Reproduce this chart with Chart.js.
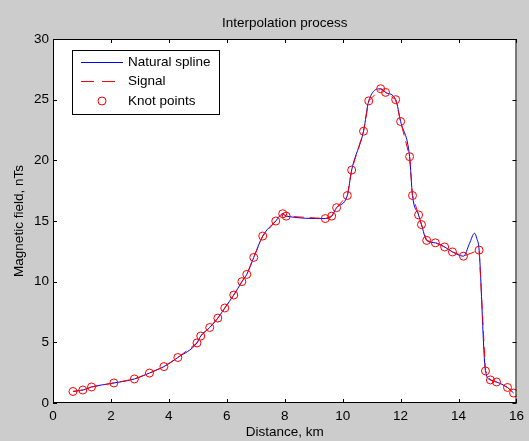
<!DOCTYPE html>
<html lang="en">
<head>
<meta charset="UTF-8">
<title>Interpolation process</title>
<script src="https://cdn.jsdelivr.net/npm/chart.js"></script>
<style>
  body { margin: 0; background: #cccccc; }
  canvas { display: block; }
</style>
</head>
<body>
<canvas id="chart" width="529" height="441"></canvas>
<script>
// knot points (km, nT)
const knotX = [0.69, 1.03, 1.33, 2.10, 2.81, 3.33, 3.83, 4.31, 4.97, 5.10, 5.41, 5.69, 5.93, 6.24, 6.52, 6.69,
  6.93, 7.24, 7.69, 7.93, 8.05, 9.40, 9.62, 9.79, 10.16, 10.31, 10.72, 10.90, 11.31, 11.48, 11.83, 12.00,
  12.31, 12.41, 12.62, 12.72, 12.90, 13.20, 13.52, 13.79, 14.17, 14.71, 14.93, 15.10, 15.31, 15.69, 15.90];
const knotY = [0.95, 1.07, 1.32, 1.65, 1.98, 2.47, 3.00, 3.75, 4.95, 5.52, 6.22, 7.00, 7.83, 8.90, 10.0, 10.6,
  12.0, 13.76, 15.0, 15.6, 15.4, 15.2, 15.4, 16.1, 17.1, 19.2, 22.4, 24.9, 25.9, 25.6, 25.0, 23.2,
  20.3, 17.1, 15.5, 14.7, 13.4, 13.2, 12.86, 12.45, 12.1, 12.6, 2.64, 1.9, 1.73, 1.28, 0.82];
const bumpX = [14.38, 14.55, 14.63];
const bumpY = [13.16, 13.99, 13.57];

const xTicks = [0, 2, 4, 6, 8, 10, 12, 14, 16];
const yTicks = [0, 5, 10, 15, 20, 25, 30];

const knots = knotX.map((x, i) => ({x, y: knotY[i]}));
const spline = knots.concat(bumpX.map((x, i) => ({x, y: bumpY[i]}))).sort((a, b) => a.x - b.x);

const font = {family: 'Liberation Sans, Arial, sans-serif', size: 13.5};
const TICK = 4;

const frame = {
  id: 'frame',
  beforeDraw(chart) {
    const {ctx, chartArea: a} = chart;
    ctx.save();
    ctx.fillStyle = '#ffffff';
    ctx.fillRect(a.left, a.top, a.right - a.left, a.bottom - a.top);
    ctx.restore();
  },
  afterDraw(chart) {
    const {ctx, chartArea: a, scales} = chart;
    ctx.save();
    ctx.strokeStyle = '#000';
    ctx.lineWidth = 1;
    ctx.strokeRect(a.left + 0.5, a.top + 0.5, a.right - a.left - 1, a.bottom - a.top - 1);
    ctx.beginPath();
    xTicks.forEach(v => {
      const px = Math.round(scales.x.getPixelForValue(v)) + 0.5;
      ctx.moveTo(px, a.bottom); ctx.lineTo(px, a.bottom - TICK);
      ctx.moveTo(px, a.top); ctx.lineTo(px, a.top + TICK);
    });
    yTicks.forEach(v => {
      const py = Math.round(scales.y.getPixelForValue(v)) + 0.5;
      ctx.moveTo(a.left, py); ctx.lineTo(a.left + TICK, py);
      ctx.moveTo(a.right, py); ctx.lineTo(a.right - TICK, py);
    });
    ctx.stroke();

    // legend box in the upper left corner
    const lx = 72.5, ly = 50.5, lw = 147, lh = 64;
    ctx.fillStyle = '#fff';
    ctx.fillRect(lx, ly, lw, lh);
    ctx.strokeRect(lx, ly, lw, lh);
    ctx.strokeStyle = '#0000ff';
    ctx.beginPath(); ctx.moveTo(81, 62.5); ctx.lineTo(123, 62.5); ctx.stroke();
    ctx.strokeStyle = '#ff0000';
    ctx.setLineDash([13, 8]);
    ctx.beginPath(); ctx.moveTo(81, 81.5); ctx.lineTo(123, 81.5); ctx.stroke();
    ctx.setLineDash([]);
    ctx.beginPath(); ctx.arc(102, 101, 4, 0, Math.PI * 2); ctx.stroke();
    ctx.fillStyle = '#000';
    ctx.font = font.size + 'px ' + font.family;
    ctx.textBaseline = 'middle';
    ctx.fillText('Natural spline', 128, 62);
    ctx.fillText('Signal', 128, 81);
    ctx.fillText('Knot points', 128, 101);
    ctx.restore();
  }
};

new Chart(document.getElementById('chart'), {
  type: 'scatter',
  data: {
    datasets: [
      {
        label: 'Knot points',
        data: knots,
        showLine: false,
        pointStyle: 'circle',
        pointRadius: 4,
        pointBorderWidth: 1,
        pointBorderColor: '#ff0000',
        pointBackgroundColor: 'rgba(0,0,0,0)',
        order: 0
      },
      {
        label: 'Signal',
        data: knots,
        showLine: true,
        borderColor: '#ff0000',
        borderWidth: 1,
        borderDash: [10, 6],
        pointRadius: 0,
        tension: 0,
        order: 1
      },
      {
        label: 'Natural spline',
        data: spline,
        showLine: true,
        borderColor: '#0000ff',
        borderWidth: 1,
        pointRadius: 0,
        cubicInterpolationMode: 'monotone',
        order: 2
      }
    ]
  },
  plugins: [frame],
  options: {
    responsive: false,
    animation: false,
    layout: {padding: {right: 12}},
    plugins: {
      legend: {display: false},
      tooltip: {enabled: false},
      title: {
        display: true,
        fullSize: false,
        text: 'Interpolation process',
        color: '#000',
        font: {...font, weight: 'normal'},
        padding: {top: 15, bottom: 7.8}
      }
    },
    scales: {
      x: {
        type: 'linear',
        min: 0,
        max: 16,
        afterFit(s) { s.height = 38; },
        afterBuildTicks(s) { s.ticks = xTicks.map(v => ({value: v})); },
        grid: {display: false, drawTicks: false},
        border: {display: false},
        ticks: {color: '#000', font, padding: 5, maxRotation: 0},
        title: {display: true, text: 'Distance, km', color: '#000', font, padding: {top: 0, bottom: 1}}
      },
      y: {
        type: 'linear',
        min: 0,
        max: 30,
        afterFit(s) { s.width = 53; },
        afterBuildTicks(s) { s.ticks = yTicks.map(v => ({value: v})); },
        grid: {display: false, drawTicks: false},
        border: {display: false},
        ticks: {color: '#000', font, padding: 4},
        title: {display: true, text: 'Magnetic field, nTs', color: '#000', font, padding: {top: 11, bottom: 0}}
      }
    }
  }
});
</script>
</body>
</html>
